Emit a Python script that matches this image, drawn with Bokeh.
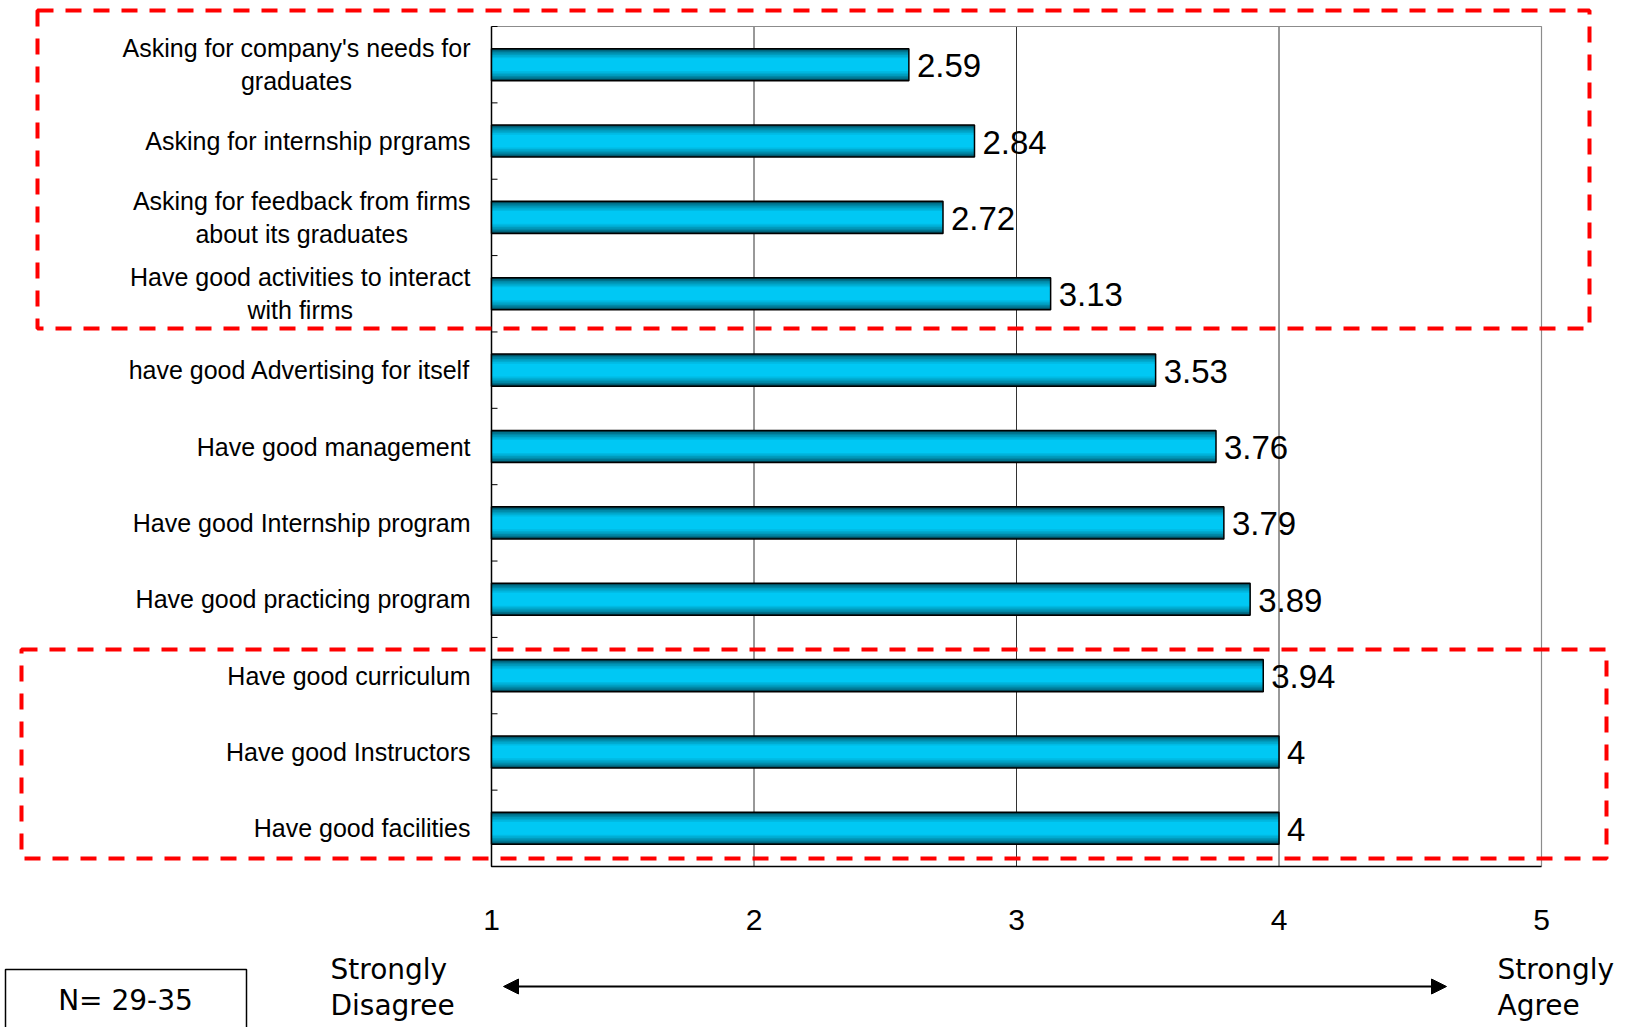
from bokeh.plotting import figure
from bokeh.models import Range1d, Arrow, NormalHead, ColumnDataSource
from bokeh.core.properties import value
from bokeh.embed import file_html
from bokeh.resources import INLINE

# ---- survey data -------------------------------------------------------
categories = [
    "Asking for company's needs for\ngraduates",
    "Asking for internship prgrams",
    "Asking for feedback from firms\nabout its graduates",
    "Have good activities to interact\nwith firms",
    "have good Advertising for itself",
    "Have good management",
    "Have good Internship program",
    "Have good practicing program",
    "Have good curriculum",
    "Have good Instructors",
    "Have good facilities",
]
scores = [2.59, 2.84, 2.72, 3.13, 3.53, 3.76, 3.79, 3.89, 3.94, 4, 4]
scale_ticks = [1, 2, 3, 4, 5]
scale_low = ["Strongly", "Disagree"]
scale_high = ["Strongly", "Agree"]
sample_note = "N= 29-35"

# ---- layout (canvas pixels) ---------------------------------------------
W, H = 1625, 1027
FRAME_L, FRAME_R, FRAME_T, FRAME_B = 491, 1541, 26, 866
n = len(categories)
x_lo, x_hi = scale_ticks[0], scale_ticks[-1]
PX_X = (x_hi - x_lo) / (FRAME_R - FRAME_L)   # data units per pixel, x
PX_Y = n / (FRAME_B - FRAME_T)               # data units per pixel, y


def dx(px):
    """canvas pixel column -> x data value"""
    return x_lo + (px - FRAME_L) * PX_X


def dy(py):
    """canvas pixel row -> y data value"""
    return (FRAME_B - py) * PX_Y


# Arial / Liberation Sans advance widths (1/1000 em) for centring wrapped labels
ADV = {" ": 278, "'": 191, "A": 667, "H": 722, "I": 278, "a": 556, "b": 556,
       "c": 500, "d": 556, "e": 556, "f": 278, "g": 556, "h": 556, "i": 222,
       "k": 500, "l": 222, "m": 833, "n": 556, "o": 556, "p": 556, "r": 333,
       "s": 500, "t": 278, "u": 556, "v": 500, "w": 722, "y": 500}


def text_width(s, size):
    return sum(ADV.get(ch, 556) for ch in s) * size / 1000.0


ys = [n - 0.5 - i for i in range(n)]
src = ColumnDataSource(dict(
    y=ys,
    score=scores,
    label=[f"{s:g}" for s in scores],
))

# the frame spans the whole canvas so that every piece can be drawn in data space
p = figure(width=W, height=H, output_backend="svg", toolbar_location=None,
           x_range=Range1d(dx(0), dx(W)), y_range=Range1d(dy(H), dy(0)),
           x_axis_type=None, y_axis_type=None,
           min_border=0, min_border_left=0, min_border_right=0,
           min_border_top=0, min_border_bottom=0,
           background_fill_color="white", border_fill_color="white",
           outline_line_color=None)
p.grid.visible = False

# vertical grid lines inside the plot area
inner = [t for t in scale_ticks if x_lo < t < x_hi]
p.segment(x0=inner, y0=[0] * len(inner), x1=inner, y1=[n] * len(inner),
          line_color="#333333", line_width=1)

# plot area border: light top/right, dark left/bottom
p.line(x=[x_lo, x_hi, x_hi], y=[n, n, 0], line_color="#8c8c8c", line_width=1.2)
p.line(x=[x_lo, x_lo, x_hi], y=[n, 0, 0], line_color="black", line_width=1.5)

# short inward ticks on the category boundaries
bounds = list(range(n + 1))
p.segment(x0=[x_lo] * len(bounds), y0=bounds,
          x1=[x_lo + 6 * PX_X] * len(bounds), y1=bounds,
          line_color="black", line_width=1)

# bars: stacked stripes give the shaded cylinder look
BAR_H = 0.42
edge = (0x00, 0x44, 0x55)
mid = (0x00, 0xc8, 0xf4)
fracs = [1.0, 0.9, 0.8, 0.7, 0.6, 0.5, 0.4]
for k, f in enumerate(fracs):
    t = (k / (len(fracs) - 1)) ** 0.6
    col = "#%02x%02x%02x" % tuple(int(a + (b - a) * t) for a, b in zip(edge, mid))
    p.hbar(y="y", left=x_lo, right="score", height=BAR_H * f, source=src,
           fill_color=col, line_color=None)
p.hbar(y="y", left=x_lo, right="score", height=BAR_H, source=src,
       fill_color=None, line_color="black", line_width=1.5)

# value labels
p.text(x="score", y="y", text="label", source=src, x_offset=8, y_offset=1,
       text_baseline="middle", text_align="left",
       text_font=value("Liberation Sans"), text_font_size="33px",
       text_color="black")

# category labels; wrapped lines are centred under the longest line
CAT_SIZE = 25
GAP = 21
LINE_STEP = 33
right_rows = dict(y=[], text=[], off=[])
centre_rows = dict(y=[], text=[], off=[], xoff=[])
for yc, name in zip(ys, categories):
    lines = name.split("\n")
    k = len(lines)
    offs = [LINE_STEP * (j - (k - 1) / 2) for j in range(k)]
    widths = [text_width(s, CAT_SIZE) for s in lines]
    wmax = max(widths)
    for s, o, w in zip(lines, offs, widths):
        if w == wmax:
            right_rows["y"].append(yc); right_rows["text"].append(s); right_rows["off"].append(o)
        else:
            centre_rows["y"].append(yc); centre_rows["text"].append(s); centre_rows["off"].append(o)
            centre_rows["xoff"].append(-GAP - wmax / 2)
right_rows["x"] = [x_lo] * len(right_rows["y"])
centre_rows["x"] = [x_lo] * len(centre_rows["y"])
p.text(x="x", y="y", text="text", source=ColumnDataSource(right_rows),
       x_offset=-GAP, y_offset="off", text_align="right", text_baseline="middle",
       text_font=value("Liberation Sans"), text_font_size=f"{CAT_SIZE}px",
       text_color="black")
p.text(x="x", y="y", text="text", source=ColumnDataSource(centre_rows),
       x_offset="xoff", y_offset="off", text_align="center", text_baseline="middle",
       text_font=value("Liberation Sans"), text_font_size=f"{CAT_SIZE}px",
       text_color="black")

# scale values under the plot area
p.text(x=scale_ticks, y=[0] * len(scale_ticks), text=[str(t) for t in scale_ticks],
       y_offset=53, text_align="center", text_baseline="middle",
       text_font=value("Liberation Sans"), text_font_size="30px", text_color="black")

# highlighted groups
for l, r, t, b in [(37, 1589, 10, 328), (21, 1606, 649, 858)]:
    p.quad(left=[dx(l)], right=[dx(r)], top=[dy(t)], bottom=[dy(b)],
           fill_color=None, line_color="#ff0000", line_width=4, line_dash="16 12")

# sample size note
p.quad(left=[dx(5)], right=[dx(246)], top=[dy(969)], bottom=[dy(1040)],
       fill_color=None, line_color="black", line_width=1.5)
p.text(x=[dx(125)], y=[dy(1000)], text=[sample_note], text_align="center",
       text_baseline="middle", text_font=value("DejaVu Sans"),
       text_font_size="28px", text_color="black")

# scale direction arrow and end captions
p.add_layout(Arrow(x_start=dx(503), y_start=dy(986), x_end=dx(1446), y_end=dy(986),
                   line_color="black", line_width=2,
                   start=NormalHead(size=15, fill_color="black", line_color="black"),
                   end=NormalHead(size=15, fill_color="black", line_color="black")))
for px, words in [(330, scale_low), (1497, scale_high)]:
    p.text(x=[dx(px)] * len(words), y=[dy(969 + 36 * j) for j in range(len(words))],
           text=words, text_align="left", text_baseline="middle",
           text_font=value("DejaVu Sans"), text_font_size="28px", text_color="black")

open("out.html", "w").write(file_html(p, INLINE))
